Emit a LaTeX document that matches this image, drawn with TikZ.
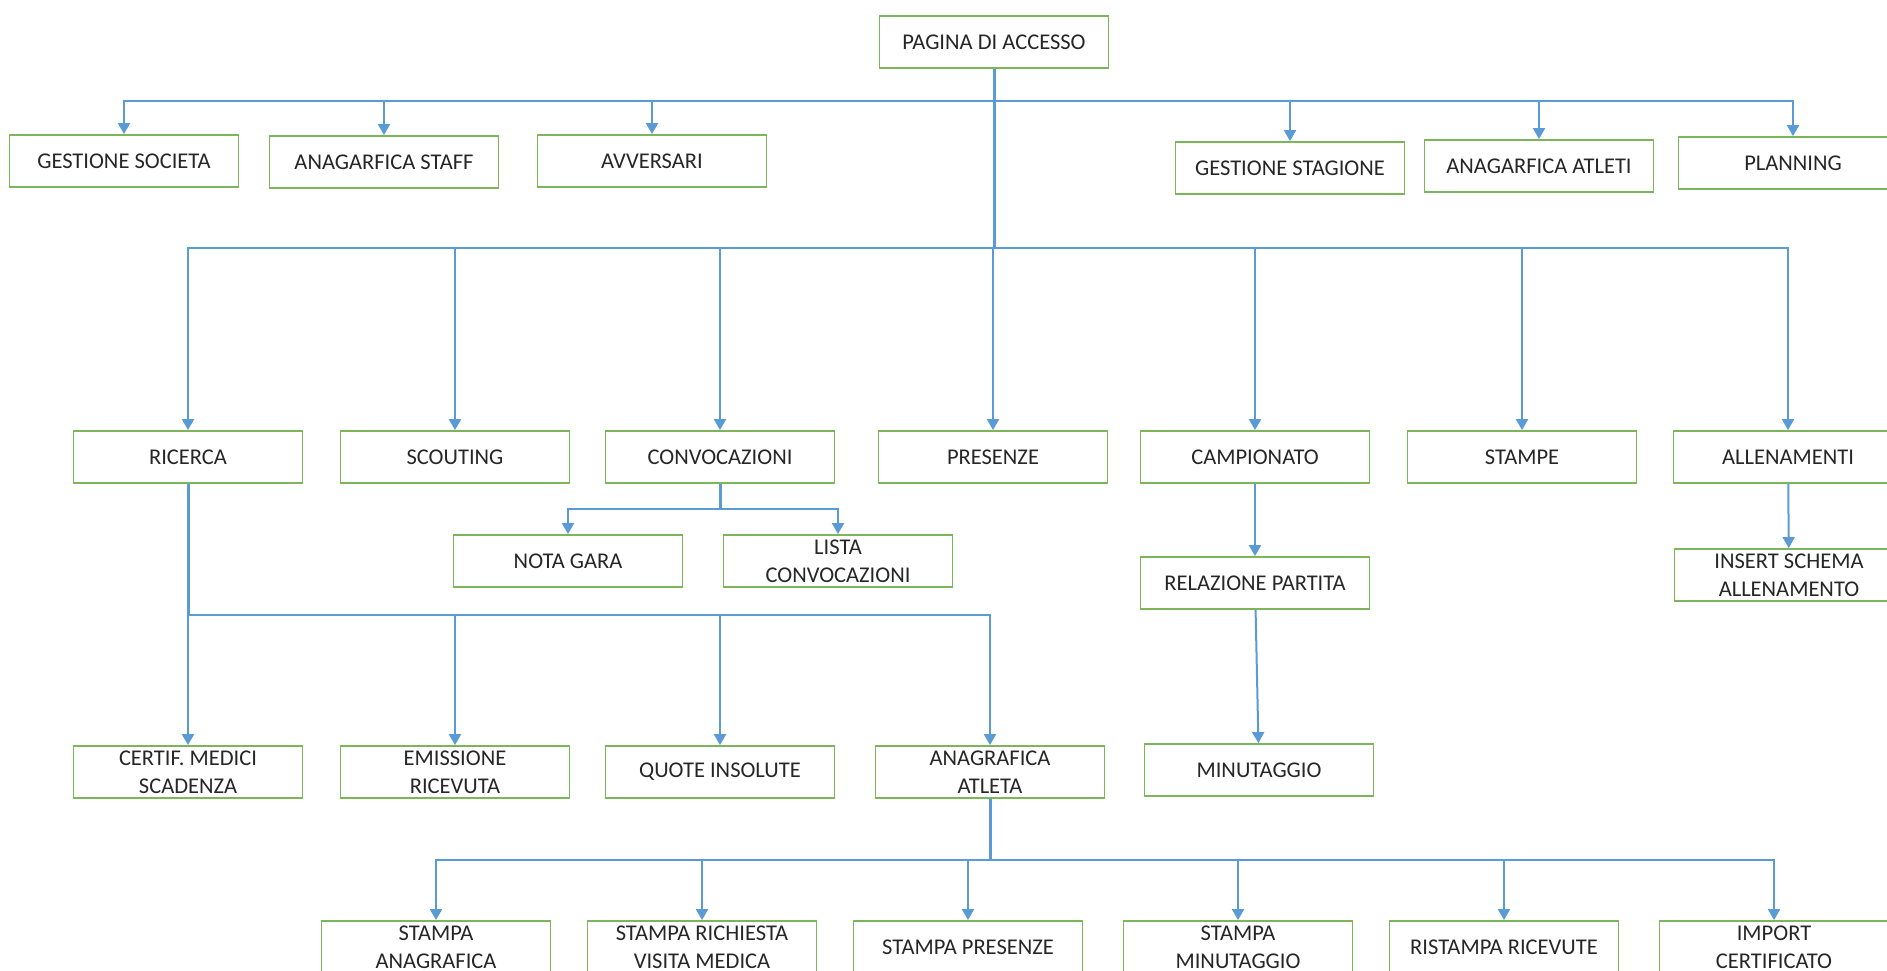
\documentclass[tikz,border=0pt]{standalone}
\usepackage{fontspec}
\setmainfont{Carlito}
\usetikzlibrary{arrows.meta}
\definecolor{boxgreen}{HTML}{7DB55A}
\definecolor{linkblue}{HTML}{5B9BD5}
\definecolor{txtgray}{HTML}{262626}

\begin{document}
\begin{tikzpicture}[x=1pt,y=-1pt,
    box/.style={draw=boxgreen, line width=1.8pt, minimum width=229pt, minimum height=52pt,
        inner sep=2pt, align=center, text=txtgray, font=\fontsize{22.5}{28}\selectfont},
    link/.style={draw=linkblue, line width=2pt, -{Triangle[width=12pt,length=11pt]}},
    trunk/.style={draw=linkblue, line width=3pt}]
        \useasboundingbox (0,0) rectangle (1887,971);
        \clip (0,0) rectangle (1887,971);

        % level 0 and 1
        \node[box] at (994,42) (acc) {PAGINA DI ACCESSO};
        \node[box] at (124,161) (gsoc) {GESTIONE SOCIETA};
        \node[box] at (384,162) (staff) {ANAGARFICA STAFF};
        \node[box] at (652,161) (avv) {AVVERSARI};
        \node[box] at (1290,168) (gstag) {GESTIONE STAGIONE};
        \node[box] at (1539,166) (atl) {ANAGARFICA ATLETI};
        \node[box] at (1793,163) (plan) {PLANNING};

        % level 2
        \node[box] at (188,457) (ric) {RICERCA};
        \node[box] at (455,457) (sco) {SCOUTING};
        \node[box] at (720,457) (conv) {CONVOCAZIONI};
        \node[box] at (993,457) (pres) {PRESENZE};
        \node[box] at (1255,457) (camp) {CAMPIONATO};
        \node[box] at (1522,457) (stmp) {STAMPE};
        \node[box] at (1788,457) (all) {ALLENAMENTI};

        \node[box] at (568,561) (nota) {NOTA GARA};
        \node[box] at (838,561) (lista) {LISTA\\CONVOCAZIONI};
        \node[box] at (1255,583) (rel) {RELAZIONE PARTITA};
        \node[box] at (1789,575) (ins) {INSERT SCHEMA\\ALLENAMENTO};

        % level 3
        \node[box] at (188,772) (cert) {CERTIF. MEDICI\\SCADENZA};
        \node[box] at (455,772) (emis) {EMISSIONE\\RICEVUTA};
        \node[box] at (720,772) (quote) {QUOTE INSOLUTE};
        \node[box] at (990,772) (anat) {ANAGRAFICA\\ATLETA};
        \node[box] at (1259,770) (minu) {MINUTAGGIO};

        % level 4
        \node[box] at (436,947) (sana) {STAMPA\\ANAGRAFICA};
        \node[box] at (702,947) (svis) {STAMPA RICHIESTA\\VISITA MEDICA};
        \node[box] at (968,947) (spres) {STAMPA PRESENZE};
        \node[box] at (1238,947) (smin) {STAMPA\\MINUTAGGIO};
        \node[box] at (1504,947) (rist) {RISTAMPA RICEVUTE};
        \node[box] at (1774,947) (imp) {IMPORT\\CERTIFICATO};

        % junctions
        \coordinate (j1) at (994,101);
        \coordinate (j2) at (994,248);
        \coordinate (j3) at (720,509);
        \coordinate (j4) at (188,615);
        \coordinate (j5) at (990,860);

        \draw[trunk] (acc.south) -- (j1) -- (j2);
        \foreach \n in {gsoc,staff,avv,gstag,atl,plan}
            \draw[link] (j1) -| (\n.north);
        \foreach \n in {ric,sco,conv,pres,camp,stmp,all}
            \draw[link] (j2) -| (\n.north);

        \draw[trunk] (conv.south) -- (j3);
        \draw[link] (j3) -| (nota.north);
        \draw[link] (j3) -| (lista.north);

        \draw[trunk] (ric.south) -- (j4);
        \foreach \n in {cert,emis,quote,anat}
            \draw[link] (j4) -| (\n.north);

        \draw[link] (camp) -- (rel);
        \draw[link] (rel) -- (minu);
        \draw[link] (all) -- (ins);

        \draw[trunk] (anat.south) -- (j5);
        \foreach \n in {sana,svis,spres,smin,rist,imp}
            \draw[link] (j5) -| (\n.north);

    \end{tikzpicture}
\end{document}
